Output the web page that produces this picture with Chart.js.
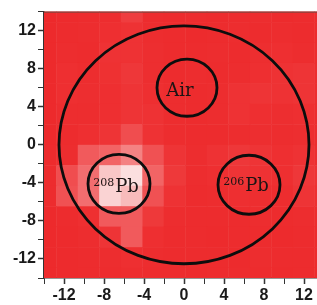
<!DOCTYPE html>
<html>
<head>
<meta charset="utf-8">
<script src="https://cdn.jsdelivr.net/npm/chart.js@4"></script>
<style>
  html, body { margin: 0; padding: 0; background: #fff; overflow: hidden; }
  #wrap { width: 330px; height: 305px; }
</style>
</head>
<body>
<div id="wrap"><canvas id="map"></canvas></div>
<script>
// heatmap cell centres (axis units) and cell size
const cellX = [-13.85, -11.7, -9.55, -7.4, -5.25, -3.1, -0.95, 1.2, 3.35, 5.5, 7.65, 9.8, 11.95, 14.1];
const cellY = [13.975, 11.825, 9.675, 7.525, 5.375, 3.225, 1.075, -1.075, -3.225, -5.375, -7.525, -9.675, -11.825, -13.975];
const cellSize = 2.15;

// relative brightness of each cell (0 = red, 1 = white), rows top to bottom
const intensity = [
  [0.02, 0.04, 0.05, 0.06, 0.18, 0.05, 0.04, 0.05, 0.04, 0.05, 0.06, 0.04, 0.05, 0.04],
  [0.03, 0.05, 0.06, 0.08, 0.10, 0.06, 0.05, 0.04, 0.05, 0.06, 0.05, 0.06, 0.05, 0.04],
  [0.03, 0.06, 0.05, 0.10, 0.10, 0.07, 0.05, 0.05, 0.06, 0.05, 0.07, 0.08, 0.06, 0.05],
  [0.03, 0.08, 0.06, 0.09, 0.14, 0.07, 0.05, 0.06, 0.05, 0.06, 0.08, 0.10, 0.12, 0.06],
  [0.03, 0.08, 0.07, 0.08, 0.12, 0.08, 0.06, 0.05, 0.06, 0.10, 0.12, 0.10, 0.12, 0.06],
  [0.03, 0.06, 0.06, 0.08, 0.12, 0.10, 0.06, 0.05, 0.06, 0.10, 0.08, 0.07, 0.08, 0.05],
  [0.03, 0.05, 0.08, 0.12, 0.28, 0.10, 0.06, 0.05, 0.05, 0.06, 0.07, 0.06, 0.07, 0.05],
  [0.04, 0.06, 0.35, 0.40, 0.55, 0.30, 0.12, 0.06, 0.10, 0.14, 0.12, 0.08, 0.10, 0.06],
  [0.05, 0.28, 0.45, 0.85, 0.95, 0.40, 0.15, 0.06, 0.08, 0.12, 0.10, 0.08, 0.14, 0.10],
  [0.05, 0.30, 0.45, 0.90, 0.80, 0.30, 0.10, 0.05, 0.06, 0.08, 0.07, 0.06, 0.12, 0.08],
  [0.03, 0.05, 0.08, 0.35, 0.35, 0.15, 0.06, 0.05, 0.05, 0.05, 0.06, 0.05, 0.06, 0.05],
  [0.03, 0.04, 0.06, 0.12, 0.35, 0.08, 0.05, 0.05, 0.04, 0.05, 0.05, 0.04, 0.05, 0.04],
  [0.03, 0.04, 0.05, 0.06, 0.08, 0.06, 0.05, 0.05, 0.05, 0.04, 0.06, 0.05, 0.05, 0.04],
  [0.03, 0.04, 0.05, 0.05, 0.06, 0.05, 0.05, 0.04, 0.05, 0.05, 0.05, 0.04, 0.05, 0.04]
];

// circles: centre x, centre y, radius (axis units)
const circleX = [0, 0.3, -6.5, 6.5];
const circleY = [0, 6.0, -4.1, -4.2];
const circleR = [12.5, 3.0, 3.1, 3.1];

// labels inside the small circles
const labelSup = ['', '208', '206'];
const labelMain = ['Air', 'Pb', 'Pb'];
const labelX = [-0.4, -6.8, 6.2];
const labelY = [5.1, -4.95, -4.9];

const axisTicks = [-12, -8, -4, 0, 4, 8, 12];

const red = [237, 40, 42];
const white = [252, 236, 236];
function cellColor(v) {
  const t = Math.pow(v, 1.3);
  const c = red.map((r, k) => Math.round(r + (white[k] - r) * t));
  return 'rgb(' + c.join(',') + ')';
}

const heatmap = {
  id: 'heatmap',
  beforeDatasetsDraw(chart) {
    const { ctx, chartArea: a, scales: { x, y } } = chart;
    ctx.save();
    ctx.beginPath();
    ctx.rect(a.left, a.top, a.right - a.left, a.bottom - a.top);
    ctx.clip();
    cellY.forEach((cy, j) => {
      cellX.forEach((cx, i) => {
        const x0 = x.getPixelForValue(cx - cellSize / 2);
        const x1 = x.getPixelForValue(cx + cellSize / 2);
        const y0 = y.getPixelForValue(cy + cellSize / 2);
        const y1 = y.getPixelForValue(cy - cellSize / 2);
        ctx.fillStyle = cellColor(intensity[j][i]);
        ctx.fillRect(x0, y0, x1 - x0 + 0.5, y1 - y0 + 0.5);
      });
    });
    ctx.restore();
  },
  afterDatasetsDraw(chart) {
    const { ctx, chartArea: a, scales: { x, y } } = chart;
    ctx.save();
    ctx.strokeStyle = '#0d0d0d';
    ctx.lineWidth = 2.8;
    circleX.forEach((cx, k) => {
      const px = x.getPixelForValue(cx);
      const py = y.getPixelForValue(circleY[k]);
      const rx = Math.abs(x.getPixelForValue(cx + circleR[k]) - px);
      const ry = Math.abs(y.getPixelForValue(circleY[k] + circleR[k]) - py);
      ctx.beginPath();
      ctx.ellipse(px, py, rx, ry, 0, 0, Math.PI * 2);
      ctx.stroke();
    });

    ctx.fillStyle = '#1c1414';
    ctx.textBaseline = 'alphabetic';
    labelMain.forEach((txt, k) => {
      const px = x.getPixelForValue(labelX[k]);
      const py = y.getPixelForValue(labelY[k]);
      const mainFont = '18px "DejaVu Serif"';
      const supFont = '11px "DejaVu Serif"';
      ctx.font = supFont;
      const ws = labelSup[k] ? ctx.measureText(labelSup[k]).width + 1 : 0;
      ctx.font = mainFont;
      const wm = ctx.measureText(txt).width;
      let left = px - (ws + wm) / 2;
      if (labelSup[k]) {
        ctx.font = supFont;
        ctx.textAlign = 'left';
        ctx.fillText(labelSup[k], left, py - 6);
      }
      ctx.font = mainFont;
      ctx.textAlign = 'left';
      ctx.fillText(txt, left + ws, py);
    });

    // top frame line
    ctx.strokeStyle = '#6b4a44';
    ctx.lineWidth = 1;
    ctx.beginPath();
    ctx.moveTo(a.left, a.top + 0.5);
    ctx.lineTo(a.right, a.top + 0.5);
    ctx.stroke();
    ctx.restore();
  }
};

const tickFont = { family: '"Liberation Sans", Arial, sans-serif', size: 16, weight: 'bold' };

function axis(pos) {
  return {
    type: 'linear',
    position: pos,
    min: -14,
    max: 14,
    border: { display: true, color: '#333', width: 1.5 },
    grid: {
      drawOnChartArea: false,
      tickLength: 6,
      tickColor: '#333',
      tickWidth: (c) => (axisTicks.includes(c.tick.value) ? 1.5 : 1)
    },
    ticks: {
      stepSize: 2,
      autoSkip: false,
      maxRotation: 0,
      padding: 2,
      color: '#1a1a1a',
      font: tickFont,
      callback: (v) => (axisTicks.includes(v) ? String(v) : '')
    }
  };
}

const xAxis = axis('bottom');
xAxis.afterFit = (s) => { s.height = 27; };
const yAxis = axis('left');
yAxis.afterFit = (s) => { s.width = 44; };

new Chart(document.getElementById('map'), {
  type: 'scatter',
  data: { datasets: [{ data: [], pointRadius: 0 }] },
  options: {
    responsive: true,
    maintainAspectRatio: false,
    animation: false,
    layout: { padding: { top: 9, right: 6, left: 0, bottom: 0 } },
    plugins: { legend: { display: false }, tooltip: { enabled: false } },
    scales: { x: xAxis, y: yAxis }
  },
  plugins: [heatmap]
});
</script>
</body>
</html>
